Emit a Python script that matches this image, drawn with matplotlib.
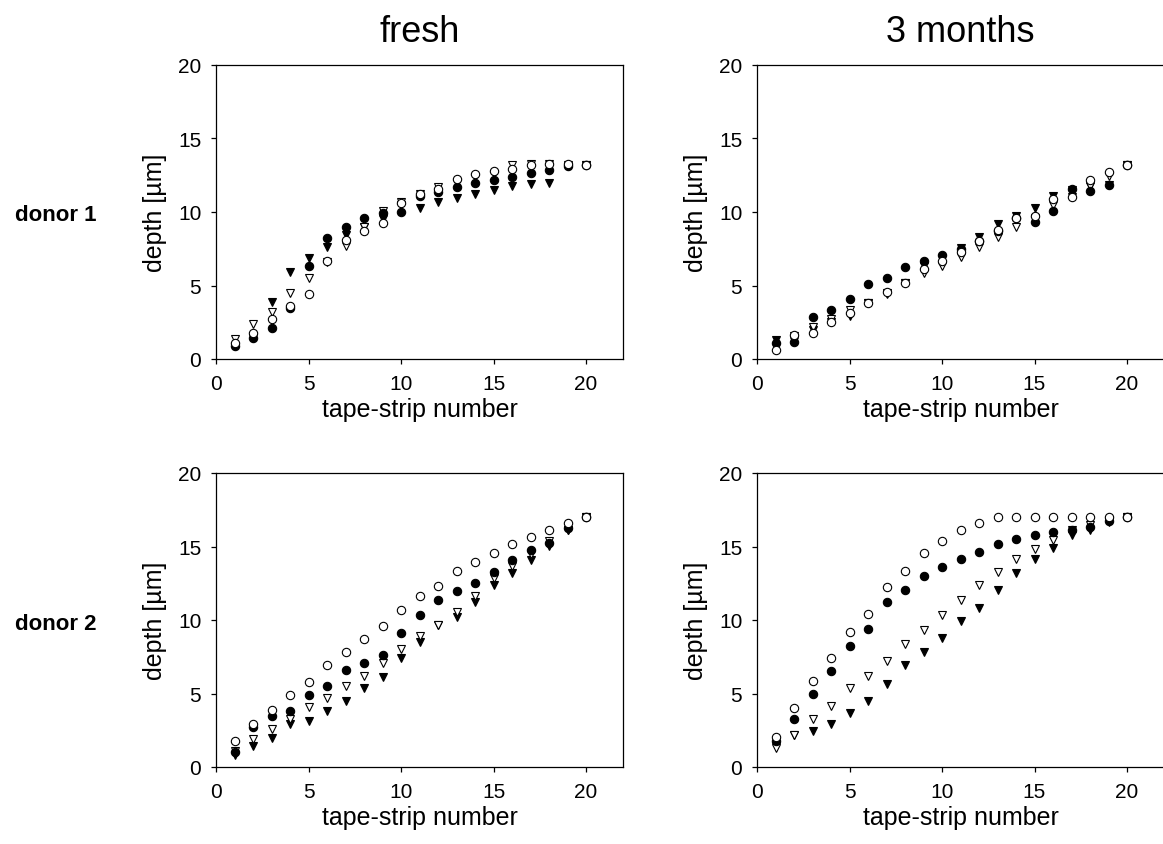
import matplotlib
matplotlib.use("Agg")
import matplotlib.pyplot as plt
import numpy as np

plt.rcParams["font.family"] = ["Liberation Sans", "DejaVu Sans"]

strip = np.arange(1, 21)

# donor 1, fresh
d1_fresh_oc = [1.1, 1.8, 2.7, 3.6, 4.4, 6.65, 8.1, 8.7, 9.25, 10.6, 11.2, 11.55, 12.25, 12.6, 12.8, 12.95, 13.2, 13.25, 13.25, 13.2]
d1_fresh_fc = [0.9, 1.4, 2.1, 3.45, 6.3, 8.2, 9.0, 9.6, 9.95, 10.0, 11.1, 11.35, 11.7, 12.0, 12.2, 12.35, 12.65, 12.85, 13.1, 13.2]
d1_fresh_ot = [1.35, 2.4, 3.2, 4.5, 5.5, 6.6, 7.7, 8.95, 10.1, 10.7, 11.25, 11.7, 12.0, 12.35, 12.6, 13.2, 13.25, 13.25, 13.2, 13.2]
d1_fresh_ft = [0.9, 1.4, 3.85, 5.9, 6.85, 7.65, 8.45, 8.95, 9.5, 10.5, 10.3, 10.7, 10.95, 11.25, 11.5, 11.75, 11.9, 12.0, 13.1, 13.2]

# donor 1, 3 months
d1_3m_oc = [0.6, 1.65, 1.8, 2.5, 3.1, 3.8, 4.55, 5.2, 6.1, 6.65, 7.25, 8.0, 8.8, 9.6, 9.7, 10.9, 11.05, 12.2, 12.7, 13.2]
d1_3m_fc = [1.1, 1.15, 2.85, 3.35, 4.05, 5.1, 5.5, 6.25, 6.65, 7.1, 7.45, 8.0, 8.7, 9.6, 9.3, 10.1, 11.55, 11.45, 11.85, 13.2]
d1_3m_ot = [0.9, 1.2, 2.2, 2.7, 3.35, 3.8, 4.4, 5.2, 5.85, 6.35, 6.95, 7.6, 8.3, 8.95, 9.6, 10.45, 11.0, 11.8, 12.45, 13.2]
d1_3m_ft = [1.3, 1.55, 1.95, 2.55, 2.95, 3.8, 4.5, 5.2, 6.3, 6.9, 7.55, 8.3, 9.2, 9.75, 10.3, 11.1, 11.5, 11.75, 11.85, 13.2]

# donor 2, fresh
d2_fresh_oc = [1.8, 2.95, 3.9, 4.9, 5.8, 6.95, 7.8, 8.7, 9.6, 10.65, 11.6, 12.3, 13.3, 13.95, 14.55, 15.2, 15.65, 16.1, 16.6, 17.0]
d2_fresh_fc = [1.0, 2.75, 3.45, 3.8, 4.9, 5.5, 6.6, 7.1, 7.6, 9.1, 10.35, 11.35, 12.0, 12.55, 13.25, 14.1, 14.75, 15.25, 16.25, 17.0]
d2_fresh_ot = [1.1, 1.9, 2.6, 3.25, 4.05, 4.7, 5.5, 6.2, 7.05, 8.0, 8.9, 9.65, 10.55, 11.6, 12.85, 13.7, 14.5, 15.4, 16.15, 17.0]
d2_fresh_ft = [0.85, 1.45, 2.0, 2.95, 3.15, 3.8, 4.5, 5.4, 6.15, 7.4, 8.5, 9.65, 10.2, 11.25, 12.4, 13.2, 14.05, 15.05, 16.15, 17.0]

# donor 2, 3 months
d2_3m_oc = [2.05, 4.0, 5.85, 7.4, 9.2, 10.4, 12.25, 13.3, 14.55, 15.35, 16.15, 16.6, 17.0, 17.0, 17.0, 17.0, 17.0, 17.0, 17.0, 17.0]
d2_3m_fc = [1.8, 3.25, 5.0, 6.5, 8.2, 9.4, 11.25, 12.05, 13.0, 13.6, 14.15, 14.6, 15.15, 15.5, 15.75, 16.0, 16.15, 16.3, 16.75, 17.0]
d2_3m_ot = [1.3, 2.2, 3.25, 4.15, 5.35, 6.2, 7.2, 8.35, 9.35, 10.35, 11.35, 12.4, 13.25, 14.15, 14.85, 15.45, 16.1, 16.45, 16.8, 17.0]
d2_3m_ft = [1.4, 2.2, 2.45, 2.95, 3.65, 4.5, 5.65, 6.95, 7.85, 8.8, 9.9, 10.8, 12.05, 13.2, 14.15, 14.9, 15.75, 16.15, 16.7, 17.0]

panels = [
    (d1_fresh_oc, d1_fresh_fc, d1_fresh_ot, d1_fresh_ft),
    (d1_3m_oc, d1_3m_fc, d1_3m_ot, d1_3m_ft),
    (d2_fresh_oc, d2_fresh_fc, d2_fresh_ot, d2_fresh_ft),
    (d2_3m_oc, d2_3m_fc, d2_3m_ot, d2_3m_ft),
]
col_titles = ["fresh", "3 months"]
row_labels = ["donor 1", "donor 2"]

W, H = 1163, 845
fig = plt.figure(figsize=(W / 100, H / 100), dpi=100)

# right column runs slightly past the canvas edge, like the original
lefts = [216, 757]
tops = [66, 474]
aw, ah = 407, 294

axes = []
for r in range(2):
    for c in range(2):
        ax = fig.add_axes([lefts[c] / W, 1 - (tops[r] + ah) / H, aw / W, ah / H])
        axes.append(ax)

for i, ax in enumerate(axes):
    oc, fc, ot, ft = panels[i]
    ax.plot(strip, ft, "v", ms=6, color="black", mec="black", mew=0.8, ls="none")
    ax.plot(strip, ot, "v", ms=6, mfc="white", mec="black", mew=0.8, ls="none")
    ax.plot(strip, fc, "o", ms=6, color="black", mec="black", mew=0.8, ls="none")
    ax.plot(strip, oc, "o", ms=6, mfc="white", mec="black", mew=0.8, ls="none")
    ax.set_xlim(0, 22)
    ax.set_ylim(0, 20)
    ax.set_xticks([0, 5, 10, 15, 20])
    ax.set_yticks([0, 5, 10, 15, 20])
    ax.tick_params(direction="out", length=3.6, width=0.9, labelsize=15, pad=7)
    for s in ax.spines.values():
        s.set_linewidth(0.9)
    ax.set_xlabel("tape-strip number", fontsize=18, labelpad=3)
    ax.set_ylabel("depth [µm]", fontsize=18, labelpad=8)
    if i % 2 == 1:
        ax.spines["right"].set_visible(False)

for c in range(2):
    axes[c].set_title(col_titles[c], fontsize=26, pad=17)

for r in range(2):
    yc = 1 - (tops[r] + ah / 2 + 3) / H
    fig.text(56 / W, yc, row_labels[r], fontsize=16, fontweight="bold", ha="center", va="center")

fig.savefig("out.png", dpi=100)
